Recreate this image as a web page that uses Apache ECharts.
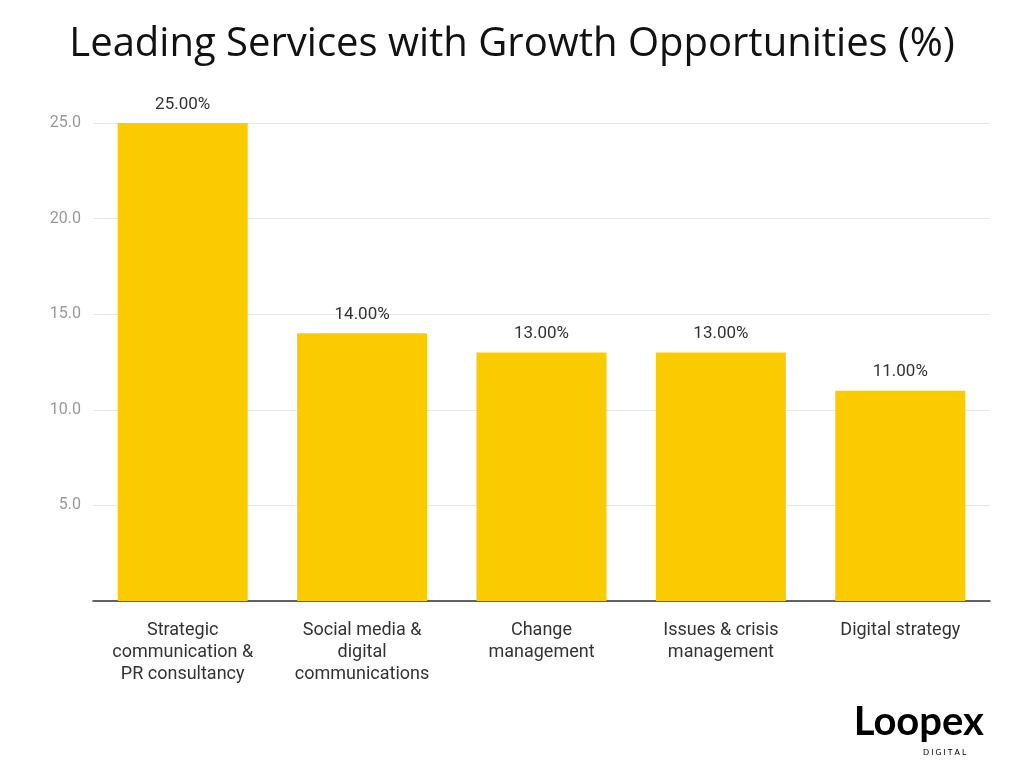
<!DOCTYPE html>
<html>
<head>
<meta charset="utf-8">
<script src="https://cdn.jsdelivr.net/npm/echarts@6/dist/echarts.min.js"></script>
<style>html,body{margin:0;padding:0;background:#fff}#main{width:1024px;height:768px}</style>
</head>
<body>
<div id="main"></div>
<script>
var categories = ['Strategic\ncommunication &\nPR consultancy', 'Social media &\ndigital\ncommunications', 'Change\nmanagement', 'Issues & crisis\nmanagement', 'Digital strategy'];
var values = [25, 14, 13, 13, 11];

var chart = echarts.init(document.getElementById('main'));
chart.setOption({
  animation: false,
  title: {
    text: 'Leading Services with Growth Opportunities (%)',
    left: 'center', top: 20,
    textStyle: {fontFamily: 'Open Sans', fontWeight: 'normal', fontSize: 40, color: '#111'}
  },
  grid: {left: 93, right: 34, top: 123, bottom: 167},
  xAxis: {
    type: 'category', data: categories,
    axisLine: {lineStyle: {color: '#333', width: 1.5}},
    axisTick: {show: false},
    axisLabel: {interval: 0, color: '#333', fontSize: 18, fontFamily: 'Roboto', lineHeight: 22, margin: 18}
  },
  yAxis: {
    type: 'value', min: 0, max: 25, interval: 5,
    axisLine: {show: false}, axisTick: {show: false},
    axisLabel: {color: '#999', fontSize: 16, fontFamily: 'Roboto', margin: 12,
      formatter: function (v) { return v === 0 ? '' : v.toFixed(1); }},
    splitLine: {lineStyle: {color: '#e6e6e6'}}
  },
  series: [{
    type: 'bar', data: values, barWidth: 130,
    itemStyle: {color: '#FACC00'},
    label: {show: true, position: 'top', distance: 10, color: '#333', fontSize: 17, fontFamily: 'Roboto',
      formatter: function (p) { return p.value.toFixed(2) + '%'; }}
  }],
  graphic: [{
    type: 'text', right: 40, top: 702,
    style: {text: 'Loopex', font: 'bold 40px Lato', fill: '#000'}
  }, {
    type: 'text', right: 58, top: 748,
    style: {text: 'D I G I T A L', font: '8px Lato', fill: '#000'}
  }]
});
</script>
</body>
</html>
